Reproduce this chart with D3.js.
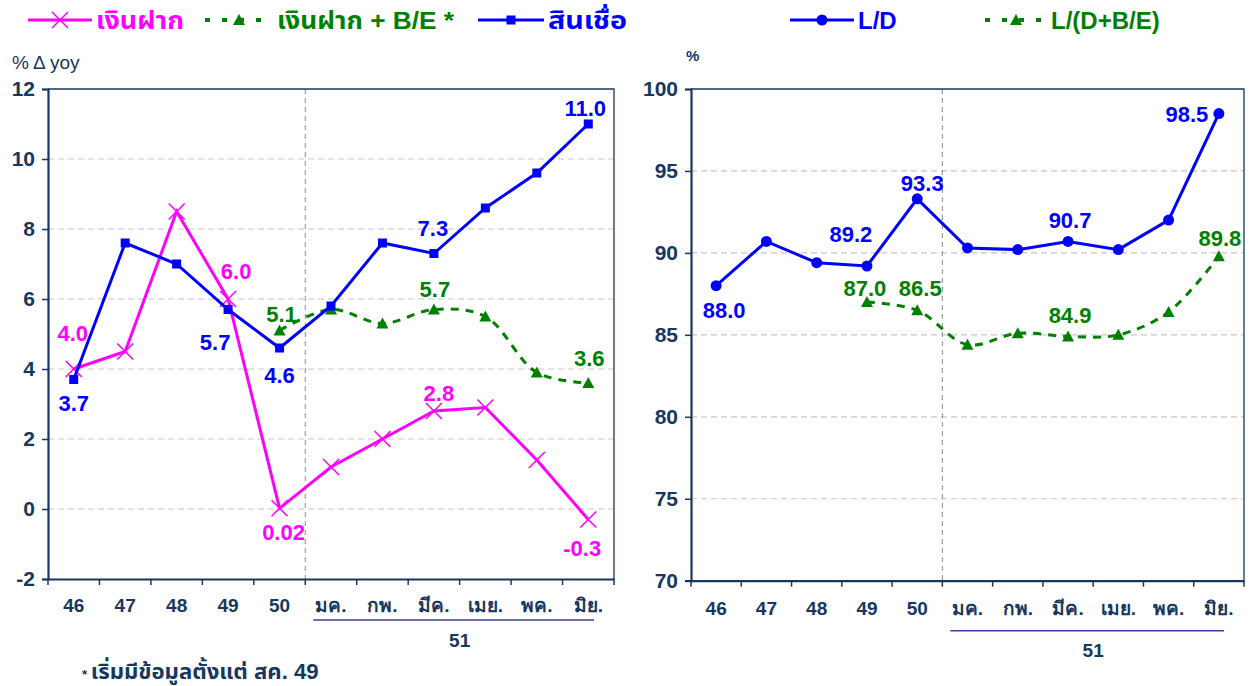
<!DOCTYPE html>
<html><head><meta charset="utf-8">
<script src="https://cdn.jsdelivr.net/npm/d3@7"></script>
<style>
body{margin:0;background:#fff;}
svg{font-family:Arial,"Liberation Sans","Noto Sans Thai","Noto Sans",sans-serif;}
</style></head>
<body>
<svg id="c" width="1252" height="686"></svg>
<script>
const categories = ["46","47","48","49","50","มค.","กพ.","มีค.","เมย.","พค.","มิย."];
const yearGroup = "51";
const deposits   = [4.0,4.5,8.5,6.0,0.02,1.2,2.0,2.8,2.9,1.4,-0.3];
const depositsBE = [null,null,null,null,5.1,5.7,5.3,5.7,5.5,3.9,3.6];
const loans      = [3.7,7.6,7.0,5.7,4.6,5.8,7.6,7.3,8.6,9.6,11.0];
const ld         = [88.0,90.7,89.4,89.2,93.3,90.3,90.2,90.7,90.2,92.0,98.5];
const ldbe       = [null,null,null,87.0,86.5,84.4,85.1,84.9,85.0,86.4,89.8];
const leftTicks  = [-2,0,2,4,6,8,10,12];
const rightTicks = [70,75,80,85,90,95,100];

const NAVY="#17375e", MAG="#ff00ff", BLUE="#0000ff", GREEN="#008000";
const svg=d3.select("#c");
const fmt=v=>(Math.abs(v)<0.1&&v!==0?d3.format(".2f")(v):d3.format(".1f")(v)).replace("−","-");

function panel(cfg){
  const g=svg.append("g");
  const x=d3.scaleBand().domain(categories).range([cfg.x0,cfg.x1]);
  const y=d3.scaleLinear().domain(cfg.domain).range([cfg.y1,cfg.y0]);
  g.selectAll(".grid").data(cfg.ticks.slice(1,-1)).enter().append("line")
    .attr("x1",cfg.x0).attr("x2",cfg.x1).attr("y1",d=>y(d)).attr("y2",d=>y(d))
    .attr("stroke","#c8c8c8").attr("stroke-width",1.2).attr("stroke-dasharray","6,4");
  const xd=cfg.x0+5*x.step();
  g.append("line").attr("x1",xd).attr("x2",xd).attr("y1",cfg.y0).attr("y2",cfg.y1)
    .attr("stroke","#8c8c8c").attr("stroke-width",1).attr("stroke-dasharray","5,4");
  g.append("path").attr("d",`M${cfg.x0},${cfg.y0}H${cfg.x1}V${cfg.y1}`).attr("fill","none")
    .attr("stroke",NAVY).attr("stroke-width",1.3);
  const ya=g.append("g").attr("transform",`translate(${cfg.x0},0)`)
    .call(d3.axisLeft(y).tickValues(cfg.ticks).tickSize(6).tickPadding(7).tickFormat(d=>String(d)));
  ya.select(".domain").attr("stroke",NAVY).attr("stroke-width",2.2);
  ya.selectAll(".tick line").attr("stroke",NAVY).attr("stroke-width",1.5);
  ya.selectAll("text").attr("fill",NAVY).attr("font-size",21).attr("font-weight","bold");
  const xa=g.append("g").attr("transform",`translate(0,${cfg.y1})`)
    .call(d3.axisBottom(x).tickSize(0).tickPadding(cfg.xPad));
  xa.select(".domain").attr("stroke",NAVY).attr("stroke-width",2.2);
  xa.selectAll("text").attr("fill",NAVY).attr("font-size",19).attr("font-weight","bold");
  g.selectAll(".xt").data(d3.range(categories.length+1)).enter().append("line")
    .attr("x1",i=>cfg.x0+i*x.step()).attr("x2",i=>cfg.x0+i*x.step())
    .attr("y1",cfg.y1).attr("y2",cfg.y1+6).attr("stroke",NAVY).attr("stroke-width",1.5);
  g.append("line").attr("x1",xd+8).attr("x2",cfg.x1-20).attr("y1",cfg.y1+cfg.ulOff).attr("y2",cfg.y1+cfg.ulOff)
    .attr("stroke","#3b3b9e").attr("stroke-width",1.6);
  g.append("text").attr("x",(xd+cfg.x1)/2).attr("y",cfg.y1+cfg.yearOff).attr("text-anchor","middle")
    .attr("fill",NAVY).attr("font-size",19).attr("font-weight","bold").text(yearGroup);
  return {g,x,y};
}

function series(p,vals,color,opt){
  const pts=vals.map((v,i)=>({v,i})).filter(d=>d.v!==null);
  const line=d3.line().x(d=>p.x(categories[d.i])+p.x.bandwidth()/2).y(d=>p.y(d.v))
    .curve(opt.smooth?d3.curveCatmullRom.alpha(0.5):d3.curveLinear);
  p.g.append("path").datum(pts).attr("d",line).attr("fill","none").attr("stroke",color)
    .attr("stroke-width",3).attr("stroke-dasharray",opt.dash||null);
  const mg=p.g.selectAll(null).data(pts).enter().append("g")
    .attr("transform",d=>`translate(${p.x(categories[d.i])+p.x.bandwidth()/2},${p.y(d.v)})`);
  drawMarker(mg,opt.marker,color);
  p.g.selectAll(null).data(opt.labels).enter().append("text")
    .attr("x",l=>p.x(categories[l.i])+p.x.bandwidth()/2+l.dx)
    .attr("y",l=>p.y(vals[l.i])+l.dy).attr("dy","0.36em").attr("text-anchor","middle")
    .attr("fill",color).attr("font-size",22).attr("font-weight","bold")
    .text(l=>fmt(vals[l.i]));
}
function drawMarker(sel,type,color){
  if(type==="x"){
    sel.append("path").attr("d","M-8,-8L8,8M-8,8L8,-8").attr("stroke",color).attr("stroke-width",1.5);
  }else if(type==="square"){
    sel.append("rect").attr("x",-4.5).attr("y",-4.5).attr("width",9).attr("height",9).attr("fill",color);
  }else if(type==="circle"){
    sel.append("circle").attr("r",5.5).attr("fill",color);
  }else if(type==="tri"){
    sel.append("path").attr("d","M0,-6L6,5H-6Z").attr("fill",color);
  }
}

const L=panel({x0:48,x1:614,y0:89,y1:579,domain:[-2,12],ticks:leftTicks,ulOff:41,yearOff:68,xPad:20});
const R=panel({x0:691,x1:1244,y0:89,y1:580.7,domain:[70,100],ticks:rightTicks,ulOff:50,yearOff:76,xPad:21});

series(L,deposits,MAG,{marker:"x",labels:[{i:0,dx:-1,dy:-36},{i:3,dx:8,dy:-28},{i:4,dx:4,dy:24},{i:7,dx:5,dy:-18},{i:10,dx:-6,dy:29}]});
series(L,depositsBE,GREEN,{marker:"tri",smooth:true,dash:"8,7",labels:[{i:4,dx:2,dy:-16},{i:7,dx:1,dy:-20},{i:10,dx:1,dy:-25}]});
series(L,loans,BLUE,{marker:"square",labels:[{i:0,dx:0,dy:24},{i:3,dx:-13,dy:33},{i:4,dx:0,dy:27},{i:7,dx:-1,dy:-25},{i:10,dx:-3,dy:-16}]});
series(R,ldbe,GREEN,{marker:"tri",smooth:true,dash:"8,7",labels:[{i:3,dx:-2,dy:-14},{i:4,dx:3,dy:-22},{i:7,dx:2,dy:-21},{i:10,dx:1,dy:-18}]});
series(R,ld,BLUE,{marker:"circle",labels:[{i:0,dx:8,dy:24},{i:3,dx:-16,dy:-32},{i:4,dx:5,dy:-16},{i:7,dx:2,dy:-21},{i:10,dx:-32,dy:0}]});

function legend(x,y,color,marker,dash,text,w,tl){
  const g=svg.append("g");
  g.append("line").attr("x1",x).attr("x2",x+w).attr("y1",y).attr("y2",y).attr("stroke",color)
    .attr("stroke-width",dash?4:3).attr("stroke-dasharray",dash||null);
  const m=g.append("g").attr("transform",`translate(${x+w/2},${y})`);
  drawMarker(m,marker,color);
  const t=g.append("text").attr("x",x+w+4).attr("y",y).attr("dy","0.36em").attr("fill",color)
    .attr("font-size",24).attr("font-weight","bold").text(text);
  if(tl) t.attr("textLength",tl).attr("lengthAdjust","spacingAndGlyphs");
}
legend(28,20,MAG,"x",null,"เงินฝาก",64,88);
legend(205,20,GREEN,"tri","5,12","เงินฝาก + B/E *",68,177);
legend(478,20,BLUE,"square",null,"สินเชื่อ",66,79);
legend(790,20,BLUE,"circle",null,"L/D",64,null);
legend(985,20,GREEN,"tri","5,12","L/(D+B/E)",62,null);

svg.append("text").attr("x",12).attr("y",69).attr("fill",NAVY).attr("font-size",19).text("% Δ yoy");
svg.append("text").attr("x",686).attr("y",61).attr("fill",NAVY).attr("font-size",15).attr("font-weight","bold").text("%");
const fn=svg.append("text").attr("x",82).attr("y",679).attr("fill",NAVY).attr("font-weight","bold");
fn.append("tspan").attr("font-size",13).text("* ");
fn.append("tspan").attr("font-size",22).attr("textLength",228).attr("lengthAdjust","spacingAndGlyphs").text("เริ่มมีข้อมูลตั้งแต่ สค. 49");
</script>
</body></html>
